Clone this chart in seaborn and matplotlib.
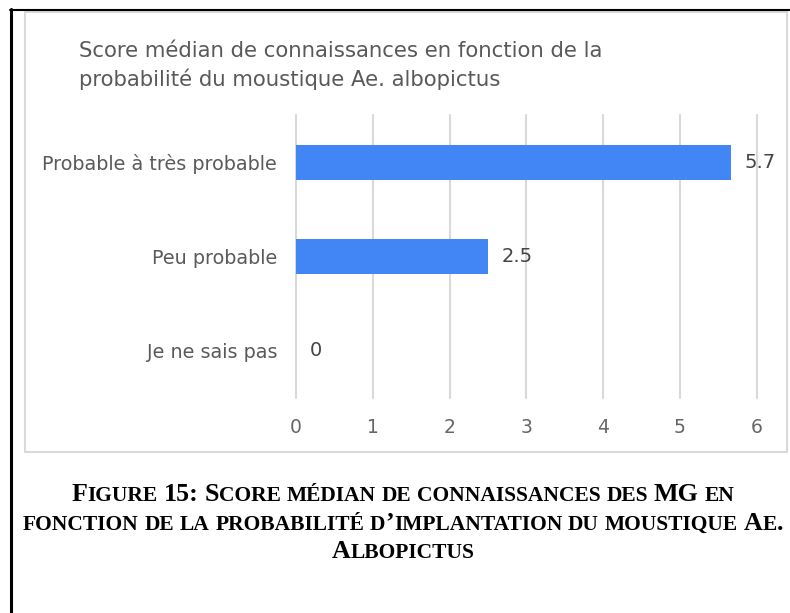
import matplotlib
matplotlib.use('Agg')
import matplotlib.pyplot as plt
from matplotlib.patches import Rectangle
from matplotlib.lines import Line2D
from matplotlib.offsetbox import TextArea, HPacker, VPacker, AnchoredOffsetbox
import pandas as pd
import seaborn as sns

# chart data
categories = ['Probable à très probable', 'Peu probable', 'Je ne sais pas']
scores = [5.66, 2.5, 0]
x_ticks = [0, 1, 2, 3, 4, 5, 6]

title_lines = ['Score médian de connaissances en fonction de la',
               'probabilité du moustique Ae. albopictus']
caption_lines = ['Figure 15: Score médian de connaissances des MG en',
                 'fonction de la probabilité d’implantation du moustique Ae.',
                 'Albopictus']

W, H = 790, 613
BLUE = '#4285f4'


def fx(px):
    return px / W


def fy(py):
    return 1 - py / H


def small_caps(line, big=18.7, small=15.5):
    # fake small caps: lowercase letters become smaller capitals
    props = dict(fontfamily='Liberation Serif', fontweight='bold', color='black')
    words = []
    for word in line.split(' '):
        runs = []
        for ch in word:
            low = ch.islower()
            if runs and runs[-1][0] == low:
                runs[-1][1] += ch
            else:
                runs.append([low, ch])
        parts = [TextArea(t.upper(), textprops=dict(props, fontsize=small if low else big))
                 for low, t in runs]
        words.append(HPacker(children=parts, align='baseline', pad=0, sep=0))
    return HPacker(children=words, align='baseline', pad=0, sep=0.27 * small)


def main():
    sns.set_style('white')
    plt.rcParams['font.family'] = ['DejaVu Sans']

    df = pd.DataFrame({'categorie': categories, 'score': scores})

    fig = plt.figure(figsize=(W / 100, H / 100), dpi=100)

    # outer page frame + chart border
    fig.add_artist(Line2D([fx(10.5), fx(10.5)], [0, fy(9)], color='black', lw=2.2,
                          transform=fig.transFigure))
    fig.add_artist(Line2D([fx(9.5), 1], [fy(10), fy(10)], color='black', lw=1.5,
                          transform=fig.transFigure))
    fig.add_artist(Rectangle((fx(25), fy(452)), fx(787) - fx(25), fy(12) - fy(452),
                             transform=fig.transFigure, fill=False,
                             edgecolor='#d9d9d9', lw=1.5))

    unit = (756.7 - 296) / 6
    ax = fig.add_axes([fx(296), fy(398), 6.02 * unit / W, (398 - 115) / H])
    sns.barplot(data=df, x='score', y='categorie', color=BLUE, saturation=1,
                width=0.37, linewidth=0, ax=ax)

    ax.set_xlim(0, 6.02)
    ax.set_ylim(2.5, -0.5)
    ax.set_xticks(x_ticks)
    ax.set_xticklabels([str(t) for t in x_ticks])
    ax.set_xlabel('')
    ax.set_ylabel('')
    ax.set_axisbelow(True)
    ax.xaxis.grid(True, color='#d9d9d9', lw=1.5)
    ax.yaxis.grid(False)
    for gl in ax.get_xgridlines():
        gl.set_clip_on(False)
    for s in ax.spines.values():
        s.set_visible(False)
    ax.tick_params(axis='y', length=0, pad=13.5, labelsize=13.8, labelcolor='#5a5a5a')
    ax.tick_params(axis='x', length=0, pad=14.5, labelsize=13.5, labelcolor='#666666')

    ax.bar_label(ax.containers[0], labels=[f'{round(v, 1):g}' for v in scores],
                 padding=10, fontsize=14, color='#444444')

    # chart title
    fig.text(fx(79), fy(57), title_lines[0], fontsize=15.3, color='#595959', va='baseline')
    fig.text(fx(79), fy(86), title_lines[1], fontsize=15.3, color='#595959', va='baseline')

    # figure caption
    block = VPacker(children=[small_caps(l) for l in caption_lines],
                    align='center', pad=0, sep=4)
    box = AnchoredOffsetbox(loc='upper center', child=block, pad=0, borderpad=0,
                            frameon=False, bbox_to_anchor=(fx(403), fy(483)),
                            bbox_transform=fig.transFigure)
    fig.add_artist(box)

    fig.savefig('out.png', dpi=100)


if __name__ == '__main__':
    main()
